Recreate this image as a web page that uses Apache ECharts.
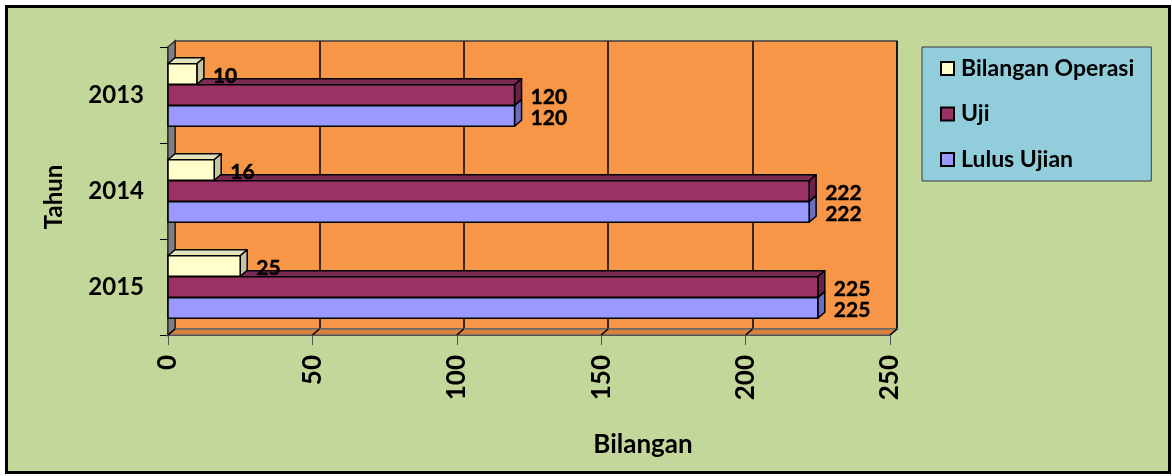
<!DOCTYPE html>
<html><head><meta charset="utf-8">
<script src="https://cdn.jsdelivr.net/npm/echarts/dist/echarts.min.js"></script>
<style>
html,body{margin:0;padding:0;background:#fff;}
#bg{position:absolute;left:5px;top:5px;width:1160px;height:463px;border:3px solid #000;background:#c4d79b;}
#c{position:absolute;left:0;top:0;width:1172px;height:476px;}
</style>
</head><body>
<div id="bg"></div>
<div id="c"></div>
<script>
const categories = ['2013', '2014', '2015'];
const seriesNames = ['Bilangan Operasi', 'Uji', 'Lulus Ujian'];
const bilanganOperasi = [10, 16, 25];
const uji = [120, 222, 225];
const lulusUjian = [120, 222, 225];
const xTicks = [0, 50, 100, 150, 200, 250];

const palette = [
  { front: '#ffffcc', top: '#e2e2bc', side: '#c6c6a2' },
  { front: '#993366', top: '#7c2a53', side: '#6a2247' },
  { front: '#9999ff', top: '#7d7dd6', side: '#6c6cc0' }
];
const DX = 7, DY = 6;
const FONT = 'Lato';

function makeBar(idx, values) {
  const col = palette[idx];
  return {
    type: 'custom',
    name: seriesNames[idx],
    xAxisIndex: 0, yAxisIndex: 0,
    z: 10 - idx,
    itemStyle: { color: col.front, borderColor: '#000', borderWidth: 1.5 },
    encode: { x: 0, y: 1 },
    data: values.map((v, i) => [v, i]),
    renderItem(params, api) {
      const v = api.value(0), c = api.value(1);
      const p0 = api.coord([0, c]), p1 = api.coord([v, c]);
      const yc = p0[1] + (idx - 1) * 21;
      const h = 20.5, yt = yc - h / 2, yb = yc + h / 2;
      const x0 = p0[0], x1 = p1[0];
      const st = (fill) => ({ fill: fill, stroke: '#000', lineWidth: 1.5, lineJoin: 'round' });
      return {
        type: 'group',
        children: [
          { type: 'polygon', shape: { points: [[x0, yt], [x0 + DX, yt - DY], [x1 + DX, yt - DY], [x1, yt]] }, style: st(col.top) },
          { type: 'polygon', shape: { points: [[x1, yt], [x1 + DX, yt - DY], [x1 + DX, yb - DY], [x1, yb]] }, style: st(col.side) },
          { type: 'rect', shape: { x: x0, y: yt, width: x1 - x0, height: h }, style: st(col.front) },
          { type: 'text', style: { text: String(v), x: x1 + DX + 9, y: yc + 2, align: 'left', verticalAlign: 'middle',
              fontFamily: FONT, fontWeight: 'bold', fontSize: 21, fill: '#000', stroke: '#000', lineWidth: 0.4 } }
        ]
      };
    }
  };
}

const decor = {
  type: 'custom',
  xAxisIndex: 0, yAxisIndex: 0,
  z: 1, silent: true,
  data: [[0, 0]],
  encode: { x: 0, y: 1 },
  renderItem(params, api) {
    const cs = params.coordSys;
    const x = cs.x, y = cs.y, w = cs.width, h = cs.height;
    const ch = [
      { type: 'polygon', shape: { points: [[x, y + h], [x + DX, y + h - DY], [x + w + DX, y + h - DY], [x + w, y + h]] },
        style: { fill: '#d8813f', stroke: '#6e6e6e', lineWidth: 1.5 } },
      { type: 'polygon', shape: { points: [[x, y + h], [x, y], [x + DX, y - DY], [x + DX, y + h - DY]] },
        style: { fill: '#808080', stroke: '#333', lineWidth: 1.5 } }
    ];
    xTicks.forEach(t => {
      const px = api.coord([t, 0])[0];
      ch.push({ type: 'line', shape: { x1: px + DX, y1: y + h - DY, x2: px, y2: y + h }, style: { stroke: '#000', lineWidth: 1.5 } });
    });
    return { type: 'group', children: ch };
  }
};

const chart = echarts.init(document.getElementById('c'), null, { renderer: 'canvas' });
chart.setOption({
  backgroundColor: 'transparent',
  animation: false,
  grid: [
    { left: 168, top: 47, width: 722, height: 288, show: false },
    { left: 168 + DX, top: 47 - DY, width: 722, height: 288, show: true, backgroundColor: '#f79646', borderColor: '#404040', borderWidth: 1.5 }
  ],
  xAxis: [
    { type: 'value', gridIndex: 0, min: 0, max: 250, interval: 50,
      axisLine: { show: true, lineStyle: { color: '#000', width: 1 } },
      axisTick: { show: true, length: 10, lineStyle: { color: '#555' } },
      axisLabel: { rotate: 90, margin: 20, color: '#000', fontFamily: FONT, fontWeight: 'bold', fontSize: 26 },
      splitLine: { show: false } },
    { type: 'value', gridIndex: 1, min: 0, max: 250, interval: 50,
      axisLine: { show: false }, axisTick: { show: false }, axisLabel: { show: false },
      splitLine: { show: true, lineStyle: { color: '#000', width: 1.5 } } }
  ],
  yAxis: [
    { type: 'category', gridIndex: 0, data: categories, inverse: true,
      axisLine: { show: true, lineStyle: { color: '#000', width: 1.5 } },
      axisTick: { show: true, length: 8, lineStyle: { color: '#000' } },
      axisLabel: { margin: 24, color: '#000', fontFamily: FONT, fontWeight: 'bold', fontSize: 24 } },
    { type: 'category', gridIndex: 1, data: categories, inverse: true, show: false }
  ],
  legend: {
    orient: 'vertical', left: 922, top: 47,
    data: seriesNames, icon: 'rect', itemWidth: 13, itemHeight: 13, itemGap: 22.5,
    padding: [10, 17, 10, 18],
    backgroundColor: '#92cddc', borderColor: '#3a3a3a', borderWidth: 1,
    itemStyle: { borderColor: '#000', borderWidth: 2 },
    textStyle: { fontFamily: FONT, fontWeight: 'bold', fontSize: 23, lineHeight: 22, color: '#000', padding: [0, 0, 0, 2] }
  },
  graphic: [
    { type: 'text', x: 643, y: 445, z: 100,
      style: { text: 'Bilangan', align: 'center', verticalAlign: 'middle', fontFamily: FONT, fontWeight: 'bold', fontSize: 26, fill: '#000' } },
    { type: 'text', x: 54, y: 197, rotation: Math.PI / 2, z: 100,
      style: { text: 'Tahun', align: 'center', verticalAlign: 'middle', fontFamily: FONT, fontWeight: 'bold', fontSize: 24, fill: '#000' } }
  ],
  series: [
    makeBar(0, bilanganOperasi),
    makeBar(1, uji),
    makeBar(2, lulusUjian),
    decor
  ]
});
</script>
</body></html>
